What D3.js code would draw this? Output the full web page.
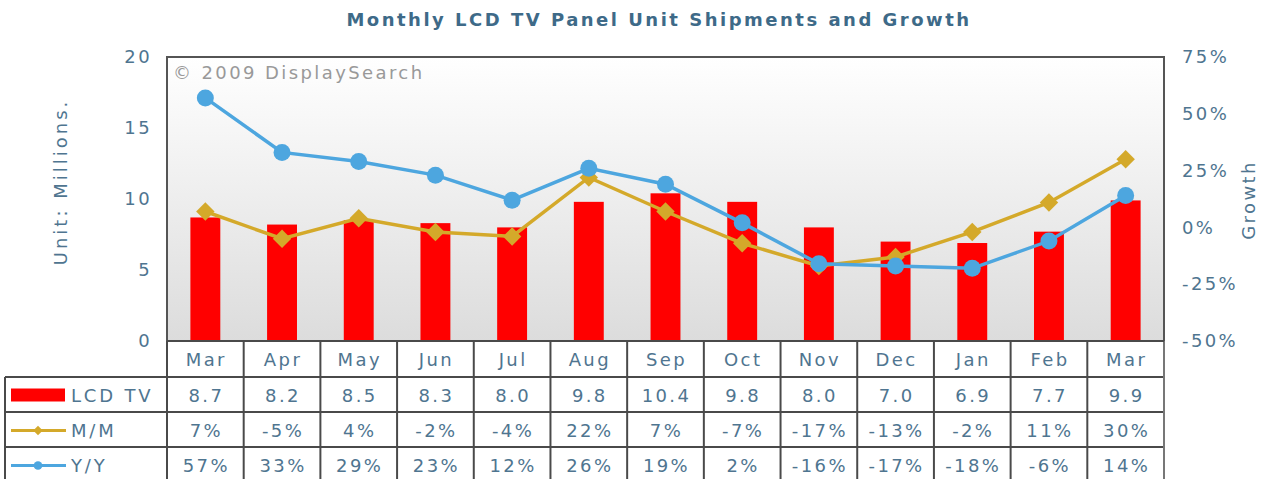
<!DOCTYPE html>
<html lang="en">
<head>
  <meta charset="UTF-8">
  <title>Monthly LCD TV Panel Unit Shipments and Growth</title>
  <script src="https://d3js.org/d3.v7.min.js"></script>
  <style>
    body { margin: 0; background: #fff; }
    svg { display: block; font-family: "DejaVu Sans", Verdana, sans-serif; }
    svg text { letter-spacing: 2.4px; }
  </style>
</head>
<body>
  <svg width="1265" height="479"></svg>

  <script>
    const months = [`Mar`, `Apr`, `May`, `Jun`, `Jul`, `Aug`, `Sep`, `Oct`, `Nov`, `Dec`, `Jan`, `Feb`, `Mar`];
    const lcdTV = [8.7, 8.2, 8.5, 8.3, 8.0, 9.8, 10.4, 9.8, 8.0, 7.0, 6.9, 7.7, 9.9];
    const momGrowth = [7, -5, 4, -2, -4, 22, 7, -7, -17, -13, -2, 11, 30];
    const yoyGrowth = [57, 33, 29, 23, 12, 26, 19, 2, -16, -17, -18, -6, 14];
    const leftTicks = [0, 5, 10, 15, 20];
    const rightTicks = [-50, -25, 0, 25, 50, 75];

    const width = 1265;
    const height = 479;
    const plot = {left: 167, right: 1164, top: 57, bottom: 341};
    const rows = [341, 377, 412, 447, 482];
    const tableLeft = 5;

    const textColor = `#4f7590`;
    const gridColor = `#4a4a4a`;
    const barColor = `#ff0000`;
    const momColor = `#d4a92a`;
    const yoyColor = `#4da6df`;
    const fs = 18;

    const svg = d3.select(`svg`);

    const idx = d3.range(months.length);
    const xScale = d3.scaleBand()
      .domain(idx)
      .range([plot.left, plot.right]);
    const xc = i => xScale(i) + xScale.bandwidth() / 2;
    const barW = xScale.bandwidth() * 0.39;

    const yLeft = d3.scaleLinear().domain([0, 20]).range([plot.bottom, plot.top]);
    const yRight = d3.scaleLinear().domain([-50, 75]).range([plot.bottom, plot.top]);

    // plot background gradient
    const grad = svg.append(`defs`).append(`linearGradient`)
      .attr(`id`, `bg`).attr(`x1`, 0).attr(`y1`, 0).attr(`x2`, 0).attr(`y2`, 1);
    grad.append(`stop`).attr(`offset`, `0%`).attr(`stop-color`, `#ffffff`);
    grad.append(`stop`).attr(`offset`, `100%`).attr(`stop-color`, `#dcdcdc`);

    svg.append(`rect`)
      .attr(`x`, plot.left).attr(`y`, plot.top)
      .attr(`width`, plot.right - plot.left).attr(`height`, plot.bottom - plot.top)
      .attr(`fill`, `url(#bg)`);

    // title
    svg.append(`text`)
      .attr(`x`, 659).attr(`y`, 26)
      .attr(`text-anchor`, `middle`)
      .attr(`font-size`, 18).attr(`font-weight`, `bold`)
      .style(`letter-spacing`, `2.5px`)
      .attr(`fill`, `#3e6a88`)
      .text(`Monthly LCD TV Panel Unit Shipments and Growth`);

    // watermark
    svg.append(`text`)
      .attr(`x`, plot.left + 6).attr(`y`, plot.top + 22)
      .attr(`font-size`, fs).attr(`fill`, `#999`)
      .text(`© 2009 DisplaySearch`);

    // bars
    svg.selectAll(`rect.bar`)
      .data(lcdTV)
      .enter()
      .append(`rect`)
      .attr(`class`, `bar`)
      .attr(`x`, (d, i) => xc(i) - barW / 2)
      .attr(`y`, d => yLeft(d))
      .attr(`width`, barW)
      .attr(`height`, d => yLeft(0) - yLeft(d))
      .attr(`fill`, barColor);

    // lines
    const line = d3.line().x((d, i) => xc(i)).y(d => yRight(d));

    svg.append(`path`)
      .datum(momGrowth)
      .attr(`d`, line)
      .attr(`fill`, `none`).attr(`stroke`, momColor).attr(`stroke-width`, 3.5);

    svg.selectAll(`path.mom`)
      .data(momGrowth)
      .enter()
      .append(`path`)
      .attr(`class`, `mom`)
      .attr(`d`, d3.symbol(d3.symbolSquare, 170))
      .attr(`transform`, (d, i) => `translate(${xc(i)},${yRight(d)}) rotate(45)`)
      .attr(`fill`, momColor);

    svg.append(`path`)
      .datum(yoyGrowth)
      .attr(`d`, line)
      .attr(`fill`, `none`).attr(`stroke`, yoyColor).attr(`stroke-width`, 3.5);

    svg.selectAll(`circle.yoy`)
      .data(yoyGrowth)
      .enter()
      .append(`circle`)
      .attr(`class`, `yoy`)
      .attr(`cx`, (d, i) => xc(i))
      .attr(`cy`, d => yRight(d))
      .attr(`r`, 8.5)
      .attr(`fill`, yoyColor);

    // plot border
    svg.append(`rect`)
      .attr(`x`, plot.left).attr(`y`, plot.top)
      .attr(`width`, plot.right - plot.left).attr(`height`, plot.bottom - plot.top)
      .attr(`fill`, `none`).attr(`stroke`, `#555`).attr(`stroke-width`, 2);

    // axes
    const leftAxis = d3.axisLeft(yLeft).tickValues(leftTicks).tickSize(0).tickPadding(0);
    const gL = svg.append(`g`).attr(`transform`, `translate(152,0)`).call(leftAxis);
    const rightAxis = d3.axisRight(yRight).tickValues(rightTicks).tickSize(0).tickPadding(0)
      .tickFormat(d => `${d}%`);
    const gR = svg.append(`g`).attr(`transform`, `translate(1182,0)`).call(rightAxis);
    [gL, gR].forEach(g => {
      g.select(`.domain`).remove();
      g.selectAll(`text`).attr(`font-size`, fs).attr(`fill`, textColor)
        .attr(`font-family`, `"DejaVu Sans", Verdana, sans-serif`);
    });

    svg.append(`text`)
      .attr(`transform`, `translate(67,182) rotate(-90)`)
      .attr(`text-anchor`, `middle`)
      .attr(`font-size`, fs).attr(`fill`, textColor)
      .style(`letter-spacing`, `3px`)
      .text(`Unit: Millions.`);

    svg.append(`text`)
      .attr(`transform`, `translate(1255,200) rotate(-90)`)
      .attr(`text-anchor`, `middle`)
      .attr(`font-size`, fs).attr(`fill`, textColor)
      .text(`Growth`);

    // data table
    const table = svg.append(`g`);
    table.append(`rect`)
      .attr(`x`, plot.left).attr(`y`, rows[0])
      .attr(`width`, plot.right - plot.left).attr(`height`, height - rows[0])
      .attr(`fill`, `#fff`);
    table.append(`rect`)
      .attr(`x`, tableLeft).attr(`y`, rows[1])
      .attr(`width`, plot.left - tableLeft).attr(`height`, height - rows[1])
      .attr(`fill`, `#fff`);

    const rowData = [
      months,
      lcdTV.map(d => d.toFixed(1)),
      momGrowth.map(d => `${d}%`),
      yoyGrowth.map(d => `${d}%`)
    ];

    rowData.forEach((vals, r) => {
      table.selectAll(`text.r${r}`)
        .data(vals)
        .enter()
        .append(`text`)
        .attr(`x`, (d, i) => xc(i) + 1)
        .attr(`y`, (rows[r] + rows[r + 1]) / 2 + 7)
        .attr(`text-anchor`, `middle`)
        .attr(`font-size`, fs)
        .attr(`fill`, textColor)
        .text(d => d);
    });

    // table grid
    rows.slice(1, 4).forEach(y => {
      table.append(`line`)
        .attr(`x1`, tableLeft).attr(`x2`, plot.right)
        .attr(`y1`, y).attr(`y2`, y)
        .attr(`stroke`, gridColor).attr(`stroke-width`, 2);
    });
    idx.slice(1).forEach(i => {
      table.append(`line`)
        .attr(`x1`, xScale(i)).attr(`x2`, xScale(i))
        .attr(`y1`, rows[0]).attr(`y2`, height)
        .attr(`stroke`, gridColor).attr(`stroke-width`, 2);
    });
    [tableLeft, plot.left, plot.right].forEach(x => {
      table.append(`line`)
        .attr(`x1`, x).attr(`x2`, x)
        .attr(`y1`, x === tableLeft ? rows[1] : rows[0]).attr(`y2`, height)
        .attr(`stroke`, x === plot.right ? `#777` : gridColor).attr(`stroke-width`, 2);
    });
    table.append(`line`)
      .attr(`x1`, plot.left).attr(`x2`, plot.right)
      .attr(`y1`, rows[0]).attr(`y2`, rows[0])
      .attr(`stroke`, gridColor).attr(`stroke-width`, 2);

    // legend column
    const legY = r => (rows[r] + rows[r + 1]) / 2;
    table.append(`rect`)
      .attr(`x`, 11).attr(`y`, legY(1) - 6)
      .attr(`width`, 54).attr(`height`, 13)
      .attr(`fill`, barColor);
    [[2, momColor, `diamond`], [3, yoyColor, `circle`]].forEach(([r, c, s]) => {
      table.append(`line`)
        .attr(`x1`, 11).attr(`x2`, 66)
        .attr(`y1`, legY(r) + 1).attr(`y2`, legY(r) + 1)
        .attr(`stroke`, c).attr(`stroke-width`, 3);
      table.append(`path`)
        .attr(`d`, d3.symbol(s === `diamond` ? d3.symbolSquare : d3.symbolCircle, s === `diamond` ? 45 : 60))
        .attr(`transform`, `translate(38,${legY(r) + 1})` + (s === `diamond` ? ` rotate(45)` : ``))
        .attr(`fill`, c);
    });
    [`LCD TV`, `M/M`, `Y/Y`].forEach((t, k) => {
      table.append(`text`)
        .attr(`x`, 71).attr(`y`, legY(k + 1) + 7)
        .attr(`font-size`, fs).attr(`fill`, textColor)
        .style(`letter-spacing`, `2.8px`)
        .text(t);
    });
  </script>
</body>
</html>
